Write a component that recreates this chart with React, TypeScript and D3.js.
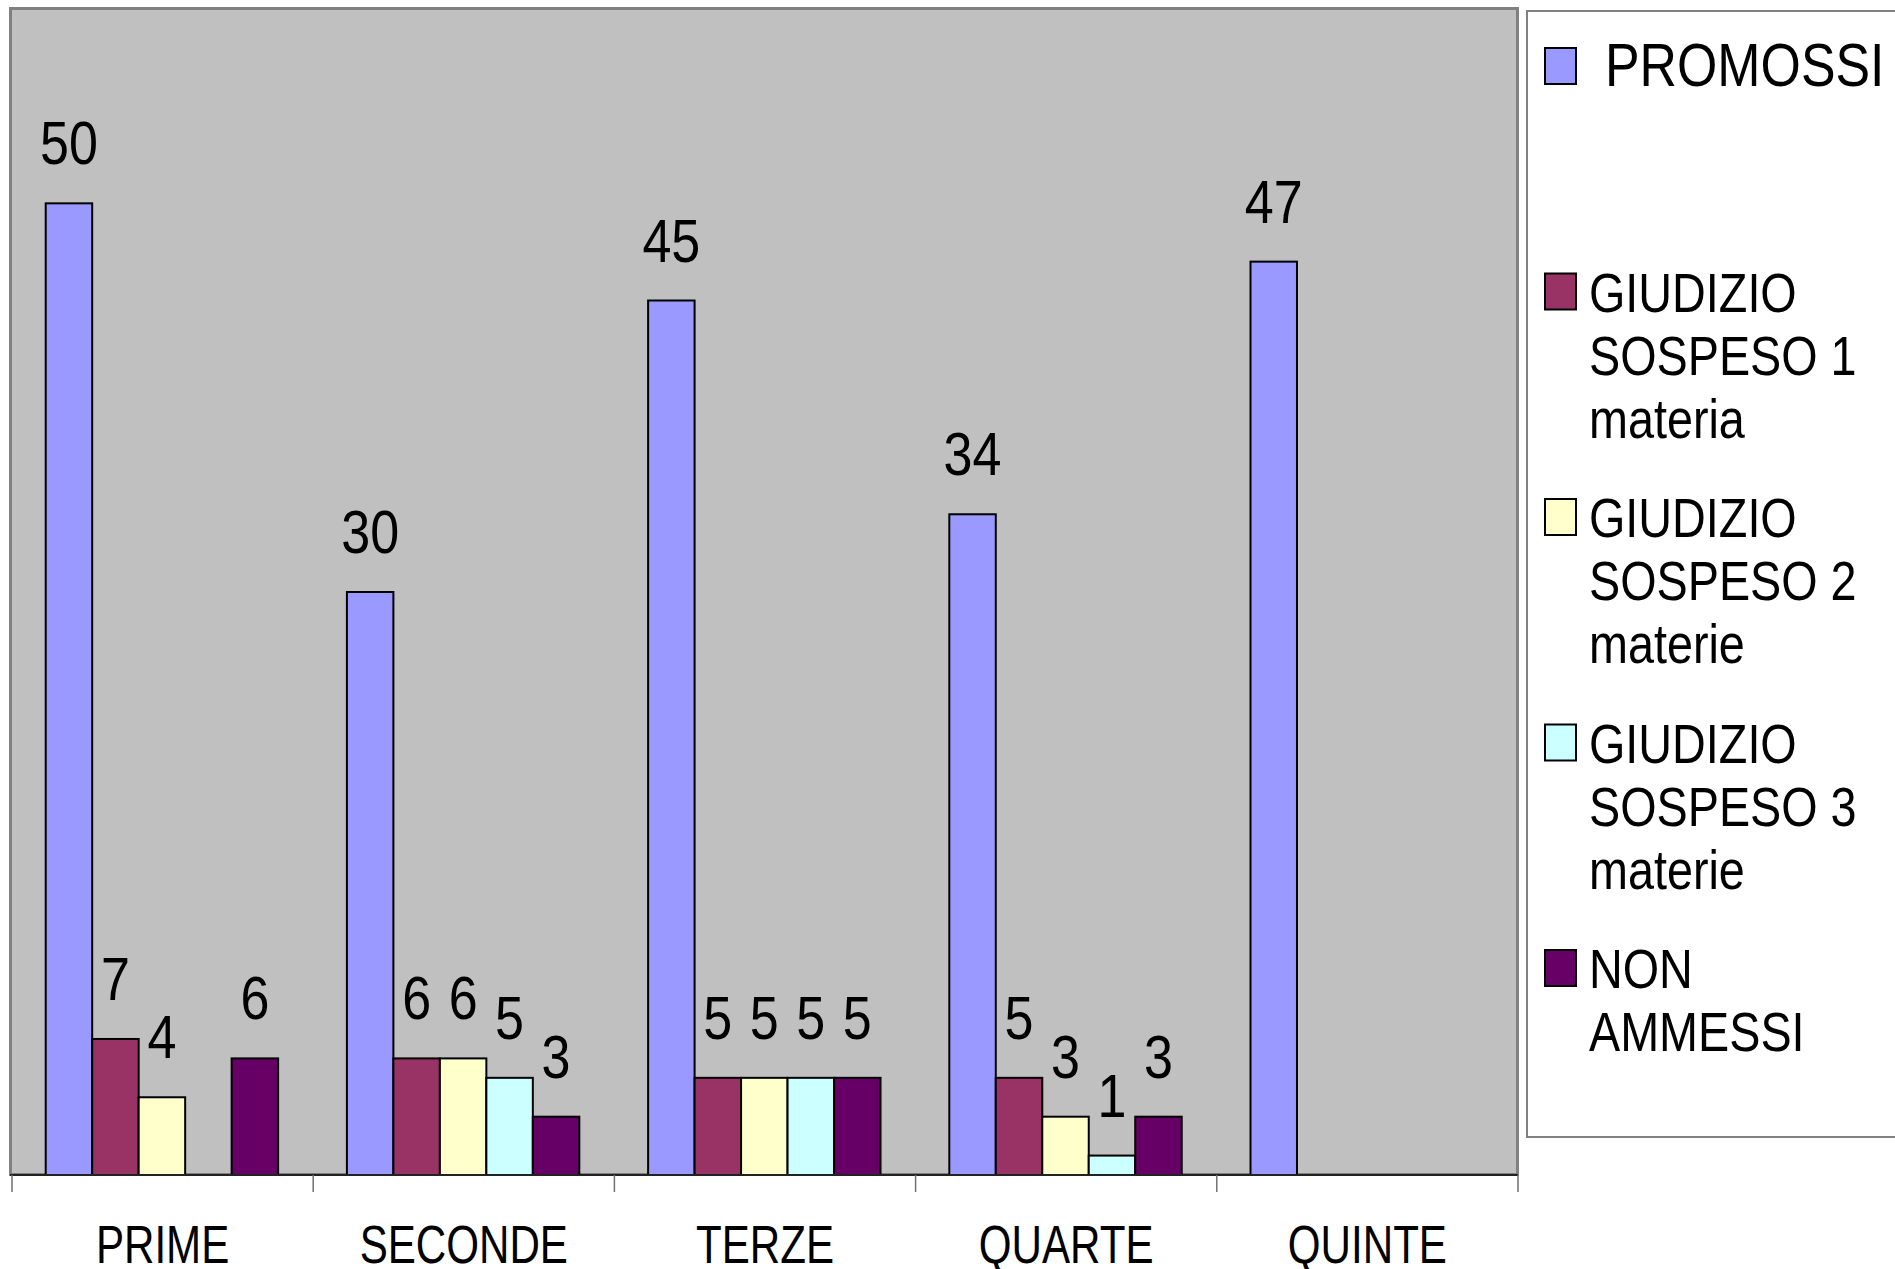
import React from 'react';
import * as d3 from 'd3';

const categories = ['PRIME', 'SECONDE', 'TERZE', 'QUARTE', 'QUINTE'];
const seriesNames = ['PROMOSSI', 'GIUDIZIO SOSPESO 1 materia', 'GIUDIZIO SOSPESO 2 materie', 'GIUDIZIO SOSPESO 3 materie', 'NON AMMESSI'];
const legendLines = [
  ['PROMOSSI'],
  ['GIUDIZIO', 'SOSPESO 1', 'materia'],
  ['GIUDIZIO', 'SOSPESO 2', 'materie'],
  ['GIUDIZIO', 'SOSPESO 3', 'materie'],
  ['NON', 'AMMESSI'],
];
const colors = ['#9999FF', '#993366', '#FFFFCC', '#CCFFFF', '#660066'];

// one array per series, null = no bar
const promossi = [50, 30, 45, 34, 47];
const sospeso1 = [7, 6, 5, 5, null];
const sospeso2 = [4, 6, 5, 3, null];
const sospeso3 = [null, 5, 5, 1, null];
const nonAmmessi = [6, 3, 5, 3, null];
const seriesValues = [promossi, sospeso1, sospeso2, sospeso3, nonAmmessi];

const W = 1895;
const H = 1269;
const FONT = '"Liberation Sans", Arial, sans-serif';

const App: React.FC = () => {
  const plot = { left: 12, right: 1518, top: 9, bottom: 1175 };

  const x0 = d3.scaleBand<string>()
    .domain(categories)
    .range([plot.left, plot.right])
    .padding(0);

  const x1 = d3.scaleBand<string>()
    .domain(seriesNames)
    .range([0, x0.bandwidth()])
    .paddingInner(0)
    .paddingOuter(0.74)
    .align(0.49);

  const y = d3.scaleLinear().domain([0, 60]).range([plot.bottom, plot.top]);

  const legendY = d3.scaleLinear().domain([0, 4]).range([66, 968]);

  return (
    <svg width={W} height={H} style={{ position: 'absolute', left: 0, top: 0, background: '#fff' }}>
      {/* plot area */}
      <rect x={10.5} y={8.5} width={1507} height={1166} fill="#C0C0C0" stroke="#808080" strokeWidth={3} />

      {/* bars */}
      {categories.map((cat, ci) => (
        <g key={cat} transform={`translate(${x0(cat)},0)`}>
          {seriesNames.map((s, si) => {
            const v = seriesValues[si][ci];
            if (v === null) return null;
            const bx = x1(s)!;
            const bw = x1.bandwidth();
            return (
              <g key={s}>
                <rect x={bx} y={y(v)} width={bw} height={y(0) - y(v)}
                  fill={colors[si]} stroke="#000" strokeWidth={2} />
                <text transform={`translate(${bx + bw / 2},${y(v) - 39}) scale(0.84,1)`}
                  textAnchor="middle" fontFamily={FONT} fontSize={62} fill="#000">
                  {v}
                </text>
              </g>
            );
          })}
        </g>
      ))}

      {/* category axis */}
      <line x1={10} x2={plot.right} y1={plot.bottom} y2={plot.bottom} stroke="#222" strokeWidth={2} />
      {d3.range(categories.length + 1).map(i => {
        const tx = plot.left + i * x0.step();
        return <line key={i} x1={tx} x2={tx} y1={plot.bottom} y2={1192} stroke="#707070" strokeWidth={1.5} />;
      })}
      {categories.map(cat => (
        <text key={cat} transform={`translate(${x0(cat)! + x0.bandwidth() / 2},1263) scale(0.78,1)`}
          textAnchor="middle" fontFamily={FONT} fontSize={54} fill="#000">
          {cat}
        </text>
      ))}

      {/* legend */}
      <rect x={1527} y={11} width={400} height={1126} fill="#fff" stroke="#808080" strokeWidth={2} />
      {legendLines.map((lines, i) => {
        const cy = legendY(i);
        const first = i === 0;
        const fs = first ? 61 : 55;
        return (
          <g key={i}>
            <rect x={1545} y={cy - 18} width={31} height={36} fill={colors[i]} stroke="#000" strokeWidth={2} />
            {lines.map((line, li) => (
              <text key={li} transform={`translate(${first ? 1605 : 1589},${cy + (first ? 20 : 20) + li * 63}) scale(${first ? 0.85 : 0.85},1)`}
                fontFamily={FONT} fontSize={fs} fill="#000">
                {line}
              </text>
            ))}
          </g>
        );
      })}
    </svg>
  );
};

export default App;
